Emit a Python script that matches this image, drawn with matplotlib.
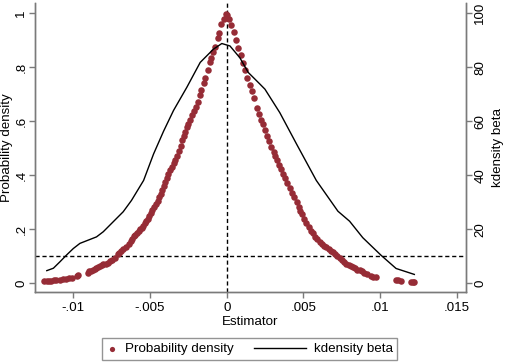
import numpy as np
import matplotlib
matplotlib.use('Agg')
import matplotlib.pyplot as plt
from matplotlib.lines import Line2D
from matplotlib.legend_handler import HandlerBase

plt.rcParams['font.family'] = ['Liberation Sans', 'DejaVu Sans']

# probability density points (estimator, density)
pd_x = [-0.01190, -0.01175, -0.01160, -0.01145, -0.01125, -0.01110, -0.01090, -0.01070,
        -0.01050, -0.01030, -0.01010, -0.00975, -0.00970,
        -0.00905, -0.00895, -0.00885, -0.00872, -0.00860, -0.00850, -0.00840, -0.00828,
        -0.00815, -0.00805, -0.00790, -0.00775, -0.00760, -0.00745, -0.00730, -0.00712,
        -0.00705, -0.00690, -0.00675, -0.00655, -0.00640, -0.00625, -0.00615, -0.00605,
        -0.00598, -0.00585, -0.00575, -0.00565, -0.00555, -0.00545, -0.00535, -0.00525,
        -0.00515, -0.00505, -0.00495, -0.00485, -0.00475, -0.00462, -0.00450, -0.00440,
        -0.00430, -0.00420, -0.00410, -0.00400, -0.00390, -0.00380, -0.00370, -0.00358,
        -0.00345, -0.00335, -0.00322, -0.00310, -0.00300, -0.00290, -0.00280, -0.00270,
        -0.00260, -0.00250, -0.00238, -0.00225, -0.00212, -0.00200, -0.00188, -0.00175,
        -0.00165, -0.00150, -0.00140, -0.00125, -0.00110, -0.00100, -0.00088, -0.00075,
        -0.00060, -0.00050, -0.00035, -0.00020, -0.00005,
        0.00005, 0.00015, 0.00030, 0.00045, 0.00060, 0.00075, 0.00090, 0.00105, 0.00120,
        0.00135, 0.00150, 0.00162, 0.00175, 0.00195, 0.00210, 0.00225, 0.00238, 0.00250,
        0.00262, 0.00275, 0.00290, 0.00305, 0.00315, 0.00325, 0.00340, 0.00352, 0.00368,
        0.00380, 0.00395, 0.00410, 0.00425, 0.00440, 0.00455, 0.00468, 0.00480, 0.00492,
        0.00505, 0.00520, 0.00535, 0.00550, 0.00562, 0.00575, 0.00590, 0.00606, 0.00620,
        0.00635, 0.00650, 0.00665, 0.00680, 0.00692, 0.00705, 0.00720, 0.00736, 0.00750,
        0.00765, 0.00780, 0.00795, 0.00810, 0.00822, 0.00838, 0.00852, 0.00866, 0.00880,
        0.00898, 0.00912, 0.00942, 0.00955, 0.00974, 0.01104, 0.01115, 0.01136, 0.01201,
        0.01212, 0.01223]
pd_y = [0.007, 0.008, 0.009, 0.010, 0.011, 0.012, 0.014, 0.015,
        0.017, 0.018, 0.020, 0.027, 0.030,
        0.040, 0.044, 0.047, 0.050, 0.054, 0.058, 0.062, 0.064,
        0.067, 0.070, 0.073, 0.077, 0.081, 0.086, 0.092, 0.108,
        0.113, 0.119, 0.126, 0.136, 0.145, 0.157, 0.163, 0.174,
        0.180, 0.187, 0.195, 0.200, 0.206, 0.212, 0.222, 0.232,
        0.238, 0.250, 0.262, 0.272, 0.282, 0.295, 0.306, 0.318,
        0.330, 0.345, 0.360, 0.375, 0.391, 0.405, 0.418, 0.432,
        0.445, 0.455, 0.472, 0.490, 0.510, 0.530, 0.545, 0.560,
        0.578, 0.590, 0.605, 0.622, 0.638, 0.652, 0.672, 0.698,
        0.715, 0.740, 0.762, 0.790, 0.820, 0.835, 0.855, 0.875,
        0.910, 0.928, 0.960, 0.980, 0.998,
        0.995, 0.978, 0.955, 0.930, 0.900, 0.873, 0.845, 0.815, 0.790,
        0.760, 0.735, 0.712, 0.688, 0.650, 0.628, 0.605, 0.590, 0.568,
        0.545, 0.528, 0.505, 0.485, 0.470, 0.455, 0.440, 0.425, 0.405,
        0.390, 0.372, 0.352, 0.335, 0.318, 0.300, 0.282, 0.268, 0.255,
        0.240, 0.222, 0.208, 0.195, 0.185, 0.172, 0.163, 0.154, 0.146,
        0.140, 0.134, 0.126, 0.120, 0.115, 0.108, 0.100, 0.092, 0.085,
        0.078, 0.073, 0.068, 0.063, 0.059, 0.055, 0.051, 0.048, 0.044,
        0.039, 0.035, 0.028, 0.024, 0.022, 0.012, 0.011, 0.010, 0.005,
        0.0045, 0.004]

# kernel density of beta (right axis)
kd_x = [-0.01173, -0.01130, -0.01087, -0.01044, -0.01000, -0.00957, -0.00903, -0.00849,
        -0.00805, -0.00740, -0.00675, -0.00621, -0.00542, -0.00477, -0.00412, -0.00347,
        -0.00260, -0.00173, -0.00087, -0.00032, 0.00021, 0.00086, 0.00140, 0.00216,
        0.00249, 0.00346, 0.00455, 0.00584, 0.00725, 0.00801, 0.00887, 0.01006,
        0.01104, 0.01169, 0.01223]
kd_y = [4.7, 5.6, 8.0, 10.5, 12.9, 14.8, 16.0, 17.2,
        19.1, 22.8, 26.5, 30.7, 38.1, 47.9, 56.3, 64.0,
        72.6, 81.8, 86.7, 88.8, 87.9, 83.5, 78.1, 73.8,
        71.9, 63.2, 51.6, 38.1, 26.7, 23.0, 16.9, 10.4,
        5.5, 4.3, 3.3]

x_ticks = [-0.01, -0.005, 0, 0.005, 0.01, 0.015]
x_labels = ['-.01', '-.005', '0', '.005', '.01', '.015']
y_ticks = [0, 0.2, 0.4, 0.6, 0.8, 1.0]
y_labels = ['0', '.2', '.4', '.6', '.8', '1']
y2_ticks = [0, 20, 40, 60, 80, 100]

red = '#962C36'
grey = '#7a7a7a'
fs = 9.6


class LongLine(HandlerBase):
    # line sample that reaches back into the column gap
    def create_artists(self, legend, orig_handle, xdescent, ydescent, width, height, fontsize, trans):
        y = height / 2 - ydescent
        ln = Line2D([width - 3.9 * fontsize - xdescent, width - xdescent], [y, y],
                    color='black', lw=1.0)
        ln.set_transform(trans)
        return [ln]


fig = plt.figure(figsize=(5.05, 3.63), dpi=100)
ax = fig.add_axes([0.0693, 0.1964, 0.8535, 0.7953])
ax2 = ax.twinx()

ylo, yhi = -0.031, 1.038
ax.set_xlim(-0.0125, 0.0156)
ax.set_ylim(ylo, yhi)
ax2.set_ylim(ylo * 100, yhi * 100)

sc = ax.scatter(pd_x, pd_y, s=22, color=red, linewidths=0, zorder=3)
ln, = ax2.plot(kd_x, kd_y, color='black', lw=1.0)
ax.axhline(0.1, color='black', lw=1.0, ls=(0, (3, 2)), zorder=2)
ax.axvline(0, color='black', lw=1.0, ls=(0, (3, 2)), zorder=2)

for a in (ax, ax2):
    a.spines['top'].set_visible(False)
    for s in ('left', 'right', 'bottom'):
        a.spines[s].set_color(grey)
        a.spines[s].set_linewidth(1.0)
    a.tick_params(colors=grey, labelcolor='black', labelsize=fs, length=4.5, width=1.0)

ax.set_xticks(x_ticks)
ax.set_xticklabels(x_labels)
ax.set_yticks(y_ticks)
ax.set_yticklabels(y_labels, rotation=90, va='center')
ax.tick_params(axis='y', pad=1)
ax.tick_params(axis='x', pad=3)
ax2.set_yticks(y2_ticks)
ax2.set_yticklabels([str(v) for v in y2_ticks], rotation=90, va='center')
ax2.tick_params(axis='y', pad=1.5)

ax.set_xlabel('Estimator', fontsize=fs, labelpad=1.5)
ax.set_ylabel('Probability density', fontsize=fs)
ax.yaxis.set_label_coords(-0.052, 0.5)
ax2.set_ylabel('kdensity beta', fontsize=fs)
ax2.yaxis.set_label_coords(1.06, 0.5)

fig.legend([sc, ln], ['Probability density', 'kdensity beta'],
           handler_map={Line2D: LongLine()},
           loc='center', bbox_to_anchor=(0.494, 0.0385), ncol=2,
           fontsize=fs, frameon=True, fancybox=False, edgecolor=grey,
           handlelength=0.8, handletextpad=0.6, columnspacing=4.6,
           borderpad=0.35, scatterpoints=1, markerscale=0.8)
fig.legends[0].get_frame().set_linewidth(1.0)

fig.savefig('out.png', dpi=100)
